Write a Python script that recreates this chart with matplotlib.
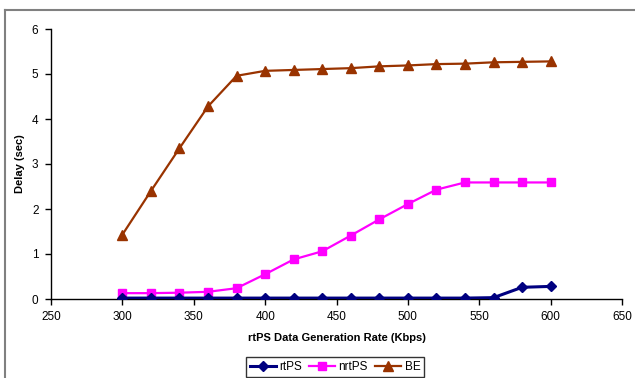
import matplotlib.pyplot as plt
from matplotlib.lines import Line2D

plt.rcParams['font.family'] = ['Liberation Sans', 'DejaVu Sans']

rate = [300, 320, 340, 360, 380, 400, 420, 440, 460, 480, 500, 520, 540, 560, 580, 600]
rtps = [0.02, 0.02, 0.02, 0.02, 0.02, 0.02, 0.02, 0.02, 0.02, 0.02, 0.02, 0.02, 0.02, 0.03, 0.26, 0.28]
nrtps = [0.13, 0.13, 0.14, 0.16, 0.24, 0.55, 0.88, 1.06, 1.41, 1.77, 2.11, 2.43, 2.59, 2.59, 2.59, 2.59]
be = [1.43, 2.40, 3.35, 4.28, 4.96, 5.07, 5.09, 5.11, 5.13, 5.17, 5.19, 5.22, 5.23, 5.26, 5.27, 5.28]

xticks = [250, 300, 350, 400, 450, 500, 550, 600, 650]
yticks = [0, 1, 2, 3, 4, 5, 6]

fig = plt.figure(figsize=(6.35, 3.78), dpi=100)
ax = fig.add_axes([51 / 635, 1 - 299 / 378, 571 / 635, 270 / 378])

ax.plot(rate, rtps, color='#000080', marker='D', markersize=5, lw=2.2, label='rtPS', zorder=3)
ax.plot(rate, nrtps, color='#FF00FF', marker='s', markersize=6, lw=1.6, label='nrtPS', zorder=2)
ax.plot(rate, be, color='#993300', marker='^', markersize=7, lw=1.6, label='BE', zorder=2)

ax.set_xlim(250, 650)
ax.set_ylim(0, 6)
ax.set_xticks(xticks)
ax.set_yticks(yticks)
ax.tick_params(labelsize=8.5, length=4, width=1, colors='black', pad=5)
for side in ('top', 'right'):
    ax.spines[side].set_visible(False)
for side in ('left', 'bottom'):
    ax.spines[side].set_linewidth(1)

ax.set_xlabel('rtPS Data Generation Rate (Kbps)', fontsize=8, fontweight='bold', labelpad=7)
ax.set_ylabel('Delay (sec)', fontsize=8, fontweight='bold', labelpad=5)

leg = fig.legend(loc='center', bbox_to_anchor=(335 / 635, 1 - 367 / 378), ncol=3,
                 fontsize=8.5, frameon=True, fancybox=False, edgecolor='black',
                 handlelength=2.2, handletextpad=0.3, columnspacing=0.6,
                 borderpad=0.3, borderaxespad=0)
leg.get_frame().set_linewidth(1)

# chart area border on the left and top
fig.add_artist(Line2D([5 / 635, 5 / 635], [0, 1 - 10 / 378], color='#808080', lw=1.5))
fig.add_artist(Line2D([5 / 635, 1], [1 - 10 / 378, 1 - 10 / 378], color='#808080', lw=1.5))

fig.savefig('out.png', dpi=100)
